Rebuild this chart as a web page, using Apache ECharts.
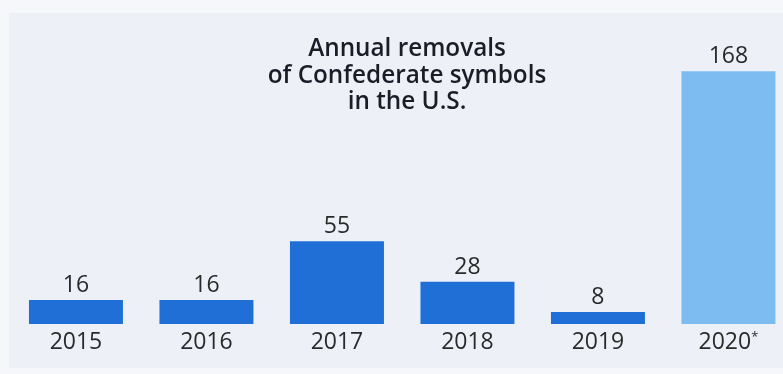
<!DOCTYPE html>
<html><head><meta charset="utf-8">
<script src="https://cdn.jsdelivr.net/npm/echarts@6/dist/echarts.min.js"></script>
<style>html,body{margin:0;padding:0;background:#f5f7fa;overflow:hidden}#c{width:783px;height:374px}</style>
</head><body><div id="c"></div>
<script>
const categories = ['2015','2016','2017','2018','2019','2020*'];
const values = [16,16,55,28,8,168];
const highlightIndex = 5;

const chart = echarts.init(document.getElementById('c'));
chart.setOption({
  backgroundColor: '#f5f7fa',
  animation: false,
  graphic: [{type:'rect', z:-10, silent:true, shape:{x:9, y:13, width:780, height:355}, style:{fill:'#edf1f7'}}],
  title: {
    text: 'Annual removals\nof Confederate symbols\nin the U.S.',
    left: 402, top: 31, textAlign: 'center',
    textStyle: {fontFamily:'Open Sans', fontSize:24.3, fontWeight:600, color:'#1c1c28', lineHeight:26.5}
  },
  grid: {left: 10.7, top: 23, right: -10.7, bottom: 50, containLabel:false, outerBoundsMode:'none'},
  xAxis: {
    type:'category', data: categories,
    axisLine:{show:false}, axisTick:{show:false},
    axisLabel:{
      interval: 0,
      fontFamily:'Open Sans', fontSize:23, color:'#2a2a2a', margin:7,
      formatter: v => v.endsWith('*') ? '{n|' + v.slice(0,-1) + '}{s|*}' : '{n|' + v + '}',
      rich: {
        n:{fontFamily:'Open Sans', fontSize:23, color:'#2a2a2a'},
        s:{fontFamily:'Open Sans', fontSize:13, color:'#2a2a2a', verticalAlign:'top', padding:[0,0,10,0]}
      }
    }
  },
  yAxis: {type:'value', min:0, max:200, show:false, splitLine:{show:false}},
  series: [{
    type:'bar', barWidth:94,
    data: values.map((v,i)=>({value:v, itemStyle:{color: i===highlightIndex ? '#7cbcf0' : '#1f6fd6'}})),
    label:{show:true, position:'top', distance:3, fontFamily:'Open Sans', fontSize:23, color:'#2a2a2a'}
  }]
});
</script></body></html>
